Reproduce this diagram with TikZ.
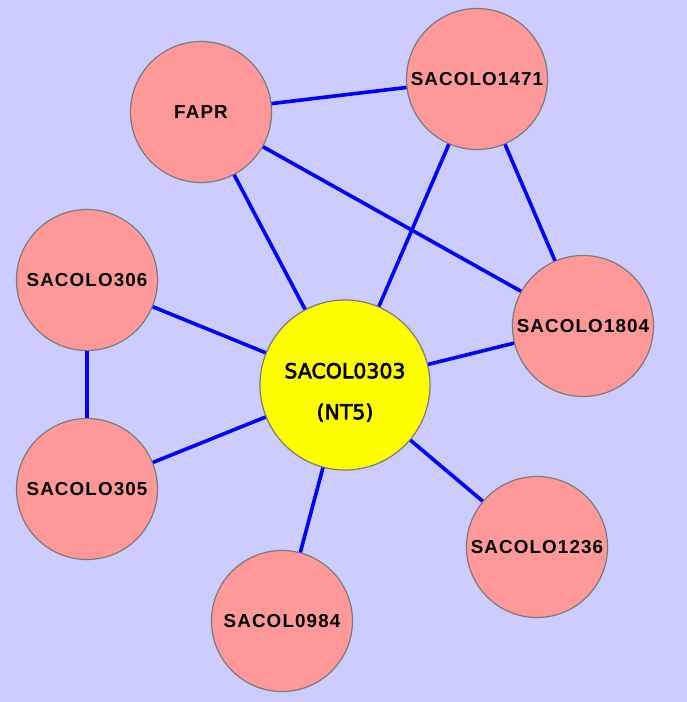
\documentclass[tikz,border=0pt]{standalone}
\usepackage{fontspec}
\setmainfont{Liberation Sans}
\newfontfamily\hubfont[FakeBold=3]{DejaVu Sans}
\usepackage{tikz}
\usetikzlibrary{calc}

\definecolor{bgblue}{HTML}{CCCCFF}
\definecolor{genepink}{HTML}{FF9999}
\definecolor{hubyellow}{HTML}{FFFF00}
\definecolor{rimgray}{HTML}{7A7A7A}

\begin{document}
\begin{tikzpicture}[x=1pt,y=-1pt]
\tikzstyle{gene} = [draw=rimgray,line width=1.2pt,circle,fill=genepink,inner sep=0pt,minimum size=141pt,
  font=\bfseries\fontsize{18.8}{20}\selectfont\addfontfeature{LetterSpace=6}]
\tikzstyle{hub} = [draw=rimgray,line width=1.2pt,circle,fill=hubyellow,inner sep=0pt,minimum size=170pt,
  font=\hubfont\fontsize{20.5}{41}\selectfont]
\tikzstyle{link} = [draw=blue,line width=3.6pt]

\fill[bgblue] (0,0) rectangle (687,702);
\useasboundingbox (0,0) rectangle (687,702);

\draw(345,385) node[hub]   (v0303) {\raisebox{-5.5pt}[\height][\depth]{\begin{tabular}{@{}c@{}}SACOL0303\\(NT5)\end{tabular}}};
\draw(201,112) node[gene]  (vFAPR) {FAPR};
\draw(477,79)  node[gene]  (v1471) {SACOLO1471};
\draw(87,280)  node[gene]  (v306)  {SACOLO306};
\draw(583,326) node[gene]  (v1804) {SACOLO1804};
\draw(87,489)  node[gene]  (v305)  {SACOLO305};
\draw(537,547) node[gene]  (v1236) {SACOLO1236};
\draw(282,621) node[gene]  (v0984) {SACOL0984};

\draw[link] (vFAPR) -- (v1471);
\draw[link] (vFAPR) -- (v0303);
\draw[link] (vFAPR) -- (v1804);
\draw[link] (v1471) -- (v0303);
\draw[link] (v1471) -- (v1804);
\draw[link] (v306) -- (v0303);
\draw[link] (v306) -- (v305);
\draw[link] (v305) -- (v0303);
\draw[link] (v1804) -- (v0303);
\draw[link] (v0303) -- (v1236);
\draw[link] (v0303) -- (v0984);

\end{tikzpicture}
\end{document}
